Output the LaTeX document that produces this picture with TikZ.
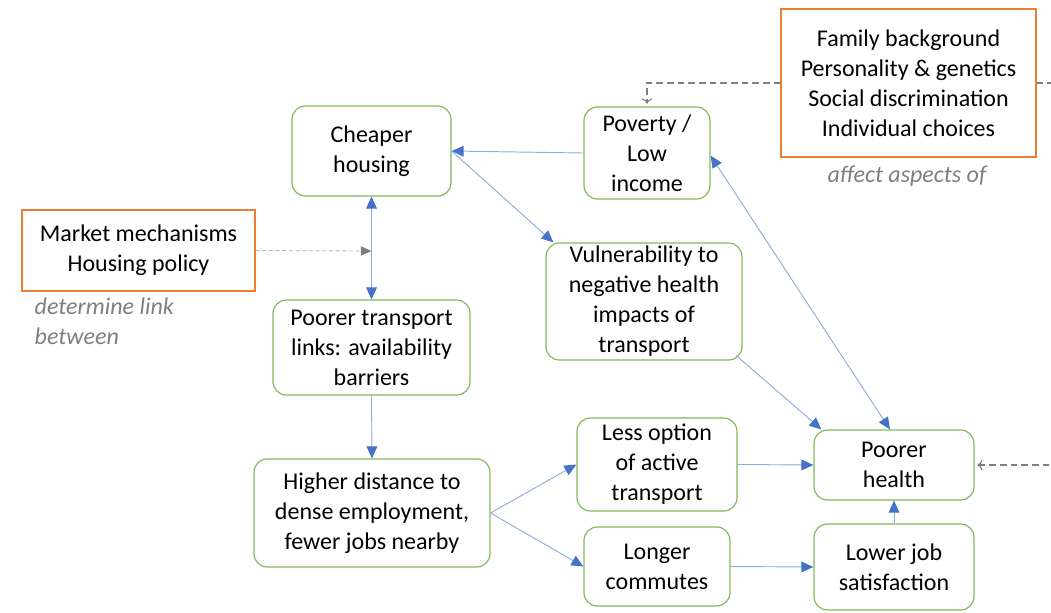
\documentclass[tikz,border=0pt]{standalone}
\usepackage{fontspec}
\setmainfont{Carlito}
\usetikzlibrary{arrows.meta, positioning}
\definecolor{boxgreen}{RGB}{130, 185, 90}
\definecolor{boxorange}{RGB}{237, 125, 49}
\definecolor{linkblue}{RGB}{143, 170, 220}
\definecolor{tipblue}{RGB}{68, 114, 196}
\definecolor{notegray}{RGB}{127, 127, 127}

\tikzset{
  stage/.style={draw=boxgreen, line width=0.9pt, rounded corners=10pt, align=center, fill=white, inner sep=2pt},
  factor/.style={draw=boxorange, line width=0.9pt, align=center, fill=white},
  link/.style={draw=linkblue, line width=0.7pt, -{Triangle[length=9pt,width=8pt,color=tipblue]}},
  twoway/.style={link, {Triangle[length=9pt,width=8pt,color=tipblue]}-{Triangle[length=9pt,width=8pt,color=tipblue]}},
  effect/.style={draw=notegray, line width=0.8pt, dash pattern=on 5pt off 3pt, -{To[length=4pt,width=8pt]}, shorten >=2pt},
  note/.style={text=notegray, font=\fontsize{18}{22.5}\selectfont\itshape}
}

\begin{document}
\begin{tikzpicture}[x=0.75pt, y=-0.75pt, font=\fontsize{18}{22.5}\selectfont]
  \useasboundingbox (0,0) rectangle (1051,612);

  % outside factors
  \node[factor, minimum width=255*0.75pt, minimum height=148*0.75pt] (factors) at (908.5,83)
    {Family background\\Personality \& genetics\\Social discrimination\\Individual choices};
  \node[note] (affect) at (907,176) {affect aspects of};
  \node[factor, minimum width=233*0.75pt, minimum height=81*0.75pt] (market) at (138.5,250.5)
    {Market mechanisms\\Housing policy};
  \node[note, align=left, anchor=north west] (determine) at (30,293) {determine link\\between};

  % main chain
  \node[stage, minimum width=159*0.75pt, minimum height=90*0.75pt] (housing) at (371.5,151) {Cheaper\\housing};
  \node[stage, minimum width=126*0.75pt, minimum height=92*0.75pt] (poverty) at (647,153) {Poverty /\\Low\\income};
  \node[stage, minimum width=196*0.75pt, minimum height=117*0.75pt] (vuln) at (644,301.5)
    {Vulnerability to\\negative health\\impacts of\\transport};
  \node[stage, minimum width=197*0.75pt, minimum height=95*0.75pt] (transport) at (371.5,347.5)
    {Poorer transport\\links: availability\\barriers};
  \node[stage, minimum width=236*0.75pt, minimum height=108*0.75pt] (distance) at (372,513)
    {Higher distance to\\dense employment,\\fewer jobs nearby};
  \node[stage, minimum width=160*0.75pt, minimum height=93*0.75pt] (active) at (657,464.5)
    {Less option\\of active\\transport};
  \node[stage, minimum width=146*0.75pt, minimum height=79*0.75pt] (commute) at (657,566.5)
    {Longer\\commutes};
  \node[stage, minimum width=160*0.75pt, minimum height=70*0.75pt] (health) at (894,465) {Poorer\\health};
  \node[stage, minimum width=160*0.75pt, minimum height=86*0.75pt] (job) at (894,567) {Lower job\\satisfaction};

  \coordinate (mid) at (371.5,251);
  \coordinate (outright) at (1060,83);
  \coordinate (inright) at (1060,465);

  % dashed influences
  \draw[effect] (factors.west) -| (poverty.north);
  \draw[effect, -] (factors.east) -- (outright);
  \draw[effect] (inright) -- (health.east);
  \draw[draw=notegray!60, line width=0.6pt, dash pattern=on 3pt off 2pt, -{Triangle[length=8pt,width=7pt,color=notegray]}] (market.east) -- (mid);

  % arrows
  \draw[link] (poverty.west) -- (housing.east);
  \draw[link] (housing.east) -- ([xshift=6pt]vuln.north west);
  \draw[twoway] (housing.south) -- (transport.north);
  \draw[link] (transport.south) -- (distance.north);
  \draw[link] (distance.east) -- (active.west);
  \draw[link] (distance.east) -- (commute.west);
  \draw[link] (active.east) -- (health.west);
  \draw[link] (commute.east) -- (job.west);
  \draw[link] (job.north) -- (health.north |- health.south);
  \draw[link] ([xshift=-5pt,yshift=4pt]vuln.south east) -- ([xshift=6pt]health.north west);
  \draw[twoway] ([yshift=-2pt]poverty.east) -- ([xshift=-3pt]health.north);
\end{tikzpicture}
\end{document}
